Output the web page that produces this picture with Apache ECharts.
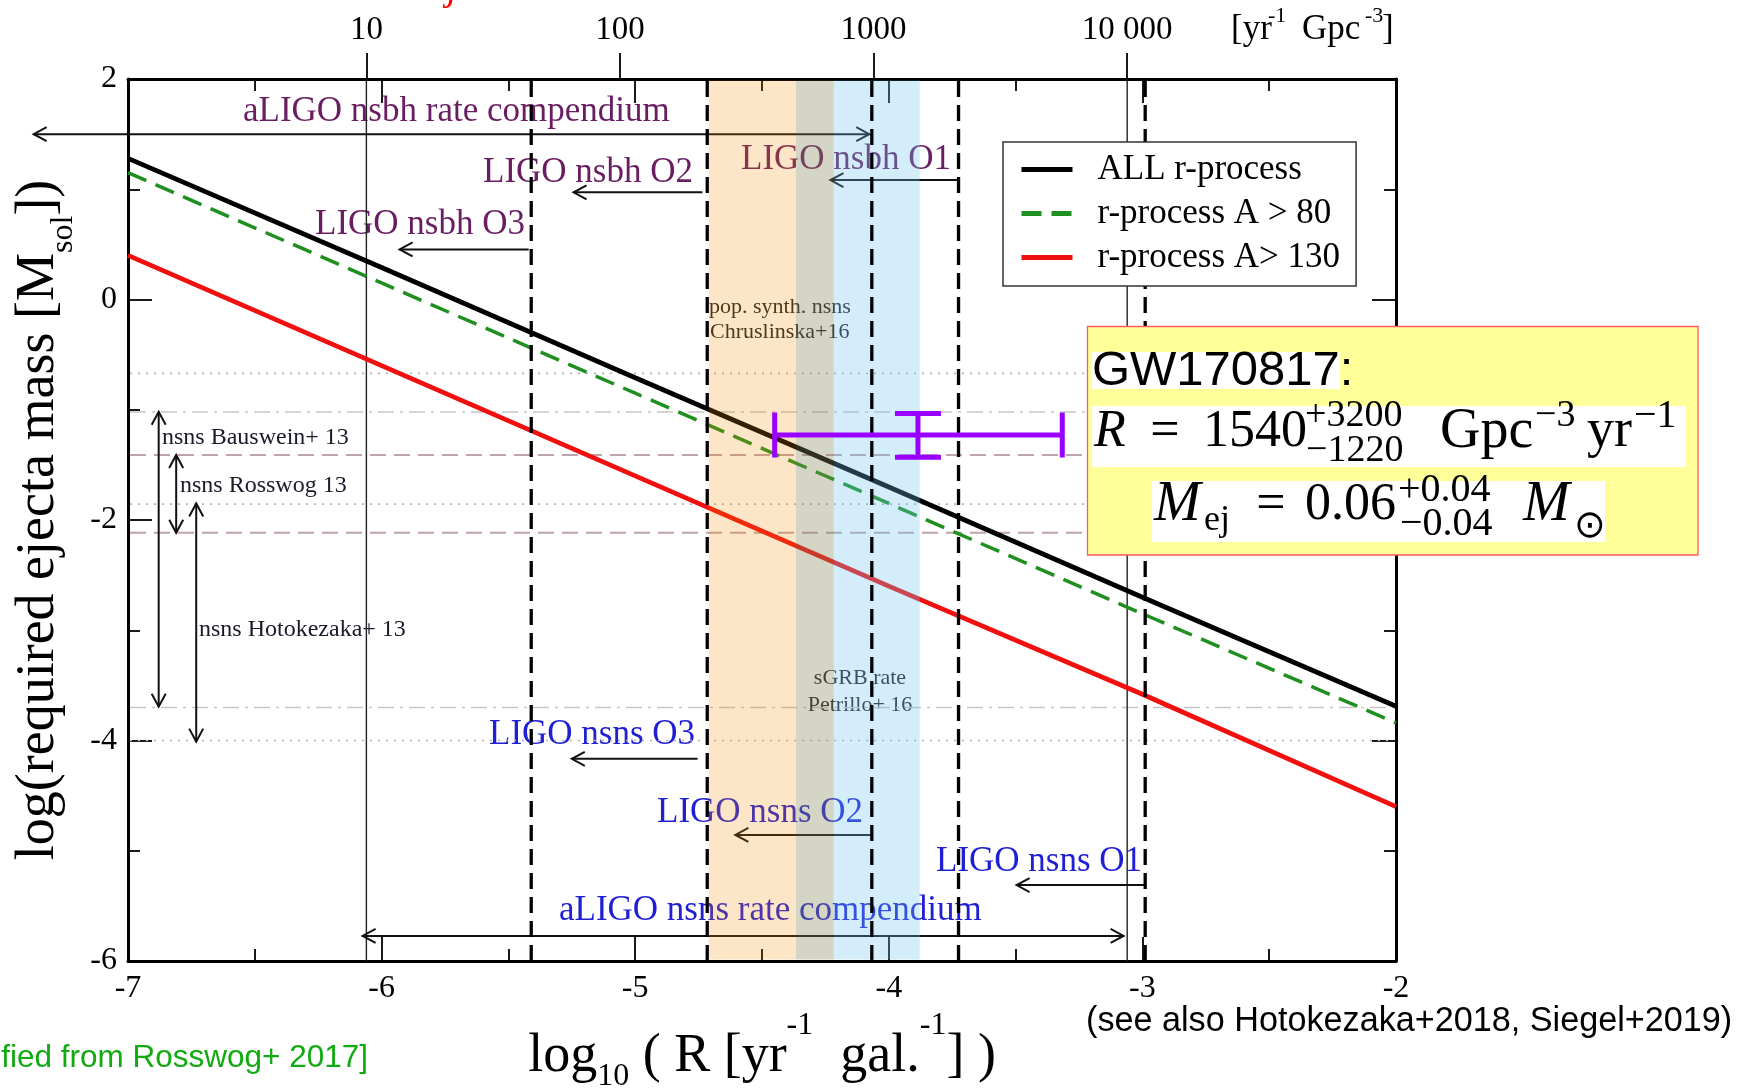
<!DOCTYPE html>
<html><head><meta charset="utf-8">
<script src="https://cdn.jsdelivr.net/npm/echarts@6/dist/echarts.min.js"></script>
<style>html,body{margin:0;padding:0;background:#fff}#c{width:1742px;height:1089px}</style>
</head><body><div id="c"></div>
<script>
// ---------------- data ----------------
const X_L = -7, X_R = -2, Y_BOT = -6, Y_TOP = 2;
const lineX   = [-7, -6, -5, -4, -3, -2];
const allR    = [1.28, 0.29, -0.71, -1.70, -2.70, -3.69];
const rA80    = [1.15, 0.15, -0.85, -1.85, -2.85, -3.84];
const rA130   = [0.40, -0.60, -1.60, -2.60, -3.58, -4.60];
const seriesNames = ['ALL r-process', 'r-process A > 80', 'r-process A> 130'];
const dashedRateX = [-5.41, -4.716, -4.067, -3.725, -2.989];
const thinRateX   = [-6.06, -3.06];
const bandPopSynth = [-4.71, -4.217];
const bandSGRB     = [-4.366, -3.878];
const refDotted  = [-0.67, -1.856, -4.0];
const refDashDot = [-1.02, -3.70];
const refDashed  = [-1.41, -2.116];
// horizontal arrows: [xStart, xEnd(head), y, doubleHeaded]
const hArrows = [
  [-7.372, -4.077, 1.50, 1],
  [-3.725, -4.230, 1.083, 0],
  [-4.735, -5.243, 0.972, 0],
  [-5.420, -5.929, 0.454, 0],
  [-4.754, -5.250, -4.166, 0],
  [-4.067, -4.605, -4.857, 0],
  [-2.989, -3.496, -5.311, 0],
  [-6.075, -3.074, -5.773, 1]
];
// vertical double arrows: [x, yTop, yBottom]
const vArrows = [[-6.879, -1.018, -3.693], [-6.81, -1.41, -2.116], [-6.731, -1.85, -4.01]];
// GW170817: [x, y, xLow, xHigh, yLow, yHigh]
const gw170817 = [-3.885, -1.229, -4.45, -3.316, -1.43, -1.033];
// top axis: log10(rate / Gpc^-3 yr^-1), offset to log10(rate / gal^-1 yr^-1)
const gpcOffset = 7.06;
const topTickExp = [1, 2, 3, 4];
const topTickLabels = ['10', '100', '1000', '10 000'];

// ---------------- helpers ----------------
const SERIF = '"Liberation Serif", "Times New Roman", serif';
const SANS = '"Liberation Sans", Arial, sans-serif';
const NSBH = '#6a1e62', NSNS = '#1f1fd4';
const zip = (xs, ys) => xs.map((x, i) => [x, ys[i]]);

function txt(text, x, y, size, color, opts) {
  opts = opts || {};
  const align = opts.align || 'left';
  const font = (opts.italic ? 'italic ' : '') + size + 'px ' + (opts.family || SERIF);
  return {type: 'text', x: x, y: y, z: opts.z == null ? 1 : opts.z, silent: true,
    style: {text: text, font: font, fill: color, align: align, textAlign: align,
      verticalAlign: opts.va || 'middle', textVerticalAlign: opts.va || 'middle'}};
}
function rect(x, y, w, h, fill, stroke, z) {
  return {type: 'rect', z: z, silent: true, shape: {x: x, y: y, width: w, height: h},
    style: {fill: fill, stroke: stroke || null, lineWidth: stroke ? 1.3 : 0}};
}
function head(tip, dx, dy, color, lw) {
  const L = 13, W = 7;
  const bx = tip[0] - dx * L, by = tip[1] - dy * L;
  return {type: 'polyline', shape: {points: [[bx - dy * W, by + dx * W], [tip[0], tip[1]], [bx + dy * W, by - dx * W]]},
    style: {stroke: color, lineWidth: lw, fill: null}};
}
const ARW = '#111';

const tickIn = {show: true, inside: true, length: 24, lineStyle: {color: '#000', width: 1.8}};
const minorIn = {show: true, splitNumber: 2, length: 12, lineStyle: {color: '#000', width: 1.8}};
const axLine = {show: true, onZero: false, lineStyle: {color: '#000', width: 3}};

const refStyles = [
  {stroke: '#b3b3b3', lineWidth: 1.6, lineDash: [2, 6]},
  {stroke: '#c6c6c6', lineWidth: 1.6, lineDash: [16, 6, 3, 6]},
  {stroke: '#bfa3aa', lineWidth: 2, lineDash: [16, 8]}
];
const refData = [].concat(refDotted.map(y => [X_L, y, 0]), refDashDot.map(y => [X_L, y, 1]), refDashed.map(y => [X_L, y, 2]));

const ov0 = Math.max(bandPopSynth[0], bandSGRB[0]), ov1 = Math.min(bandPopSynth[1], bandSGRB[1]);
const bandSegs = [[bandPopSynth[0], ov0, 0], [ov0, ov1, 1], [ov1, bandSGRB[1], 2]];
const bandColors = ['rgba(246,137,5,0.22)', 'rgba(135,135,89,0.35)', 'rgba(110,200,240,0.30)'];

const chart = echarts.init(document.getElementById('c'), null, {renderer: 'canvas', width: 1742, height: 1089});

const option = {
  animation: false,
  backgroundColor: '#fff',
  textStyle: {fontFamily: SERIF},
  grid: [
    {left: 128, right: 346, top: 79, bottom: 128, containLabel: false, outerBoundsMode: 'none'},
    {left: 128, right: 346, top: 79, bottom: 128, containLabel: false, outerBoundsMode: 'none'}
  ],
  legend: {
    orient: 'vertical', left: 1003, top: 142, z: 10,
    padding: [10, 16, 11, 16], itemGap: 9, itemWidth: 51, itemHeight: 10,
    backgroundColor: '#fff', borderColor: '#333', borderWidth: 1.5, borderRadius: 0,
    selectedMode: false,
    itemStyle: {opacity: 0},
    lineStyle: {width: 5},
    textStyle: {fontFamily: SERIF, fontSize: 35, color: '#000', padding: [0, 0, 0, 20]},
    data: seriesNames
  },
  xAxis: [
    {gridIndex: 0, type: 'value', position: 'bottom', min: X_L, max: X_R, interval: 1,
      axisLine: axLine, axisTick: tickIn, minorTick: minorIn, splitLine: {show: false},
      axisLabel: {fontFamily: SERIF, fontSize: 32, color: '#000', margin: 12},
      name: '{a|log}{s|10}{a| ( R [yr}{p|-1}{a|  gal.}{p|-1}{a|] )}',
      nameLocation: 'middle', nameGap: 43,
      nameTextStyle: {fontFamily: SERIF, fontSize: 54, color: '#000', rich: {
        a: {fontFamily: SERIF, fontSize: 54, color: '#000', verticalAlign: 'middle'},
        s: {fontFamily: SERIF, fontSize: 32, color: '#000', verticalAlign: 'middle', padding: [40, 0, 0, 0]},
        p: {fontFamily: SERIF, fontSize: 32, color: '#000', verticalAlign: 'top', padding: [0, 0, 62, 0]}
      }}},
    {gridIndex: 0, type: 'value', position: 'top', min: X_L, max: X_R, interval: 1,
      axisLine: axLine, axisTick: tickIn, minorTick: minorIn, splitLine: {show: false}, axisLabel: {show: false}},
    {gridIndex: 1, type: 'value', position: 'top', min: X_L + gpcOffset, max: X_R + gpcOffset,
      axisLine: {show: false, onZero: false},
      axisTick: {show: true, inside: false, length: 26, customValues: topTickExp, lineStyle: {color: '#000', width: 1.8}},
      minorTick: {show: false}, splitLine: {show: false},
      axisLabel: {customValues: topTickExp, fontFamily: SERIF, fontSize: 33, color: '#000', margin: 32,
        formatter: v => topTickLabels[topTickExp.indexOf(Math.round(v))]}}
  ],
  yAxis: [
    {gridIndex: 0, type: 'value', position: 'left', min: Y_BOT, max: Y_TOP, interval: 2,
      axisLine: axLine, axisTick: tickIn, minorTick: minorIn, splitLine: {show: false},
      axisLabel: {fontFamily: SERIF, fontSize: 32, color: '#000', margin: 11},
      name: '{a|log(required ejecta mass [M}{s|sol}{a|])}',
      nameLocation: 'middle', nameRotate: 90, nameGap: 40,
      nameTextStyle: {fontFamily: SERIF, fontSize: 54, color: '#000', rich: {
        a: {fontFamily: SERIF, fontSize: 54, color: '#000', verticalAlign: 'middle'},
        s: {fontFamily: SERIF, fontSize: 32, color: '#000', verticalAlign: 'middle', padding: [50, 0, 0, 0]}
      }}},
    {gridIndex: 0, type: 'value', position: 'right', min: Y_BOT, max: Y_TOP, interval: 2,
      axisLine: axLine, axisTick: tickIn, minorTick: minorIn, splitLine: {show: false}, axisLabel: {show: false}},
    {gridIndex: 1, type: 'value', show: false, min: 0, max: 1}
  ],
  series: [
    {name: seriesNames[0], type: 'line', data: zip(lineX, allR), symbol: 'none', silent: true, z: 2,
      lineStyle: {color: '#000', width: 4.8}, itemStyle: {color: '#000'}},
    {name: seriesNames[1], type: 'line', data: zip(lineX, rA80), symbol: 'none', silent: true, z: 2,
      lineStyle: {color: '#1f8f1f', width: 3.5, type: [20, 10]}, itemStyle: {color: '#1f8f1f'}},
    {name: seriesNames[2], type: 'line', data: zip(lineX, rA130), symbol: 'none', silent: true, z: 2,
      lineStyle: {color: '#f01010', width: 4.8}, itemStyle: {color: '#f01010'}},
    // horizontal reference lines
    {type: 'custom', silent: true, z: 1, clip: false, data: refData,
      renderItem: (p, api) => {
        const a = api.coord([X_L, api.value(1)]), b = api.coord([X_R, api.value(1)]);
        return {type: 'line', shape: {x1: a[0] + 2, y1: a[1], x2: b[0] - 2, y2: b[1]}, style: refStyles[api.value(2)]};
      }},
    // thin solid reference lines (10 and 10 000 Gpc^-3 yr^-1)
    {type: 'custom', silent: true, z: 2, clip: false, data: thinRateX.map(x => [x, 0]),
      renderItem: (p, api) => {
        const a = api.coord([api.value(0), Y_TOP]), b = api.coord([api.value(0), Y_BOT]);
        return {type: 'line', shape: {x1: a[0], y1: a[1], x2: b[0], y2: b[1]}, style: {stroke: '#222', lineWidth: 1.4}};
      }},
    // horizontal arrows
    {type: 'custom', silent: true, z: 2, clip: false, data: hArrows,
      renderItem: (p, api) => {
        const y = api.value(2);
        const p1 = api.coord([api.value(0), y]), p2 = api.coord([api.value(1), y]);
        const dir = p2[0] > p1[0] ? 1 : -1;
        const ch = [{type: 'line', shape: {x1: p1[0], y1: p1[1], x2: p2[0], y2: p2[1]}, style: {stroke: ARW, lineWidth: 2}},
          head(p2, dir, 0, ARW, 2)];
        if (api.value(3)) ch.push(head(p1, -dir, 0, ARW, 2));
        return {type: 'group', children: ch};
      }},
    // vertical double arrows
    {type: 'custom', silent: true, z: 2, clip: false, data: vArrows,
      renderItem: (p, api) => {
        const x = api.value(0);
        const p1 = api.coord([x, api.value(1)]), p2 = api.coord([x, api.value(2)]);
        return {type: 'group', children: [
          {type: 'line', shape: {x1: p1[0], y1: p1[1], x2: p2[0], y2: p2[1]}, style: {stroke: ARW, lineWidth: 2}},
          head(p2, 0, 1, ARW, 2), head(p1, 0, -1, ARW, 2)]};
      }},
    // rate bands (pop. synth. and sGRB)
    {type: 'custom', silent: true, z: 3, clip: false, data: bandSegs,
      renderItem: (p, api) => {
        const a = api.coord([api.value(0), Y_TOP]), b = api.coord([api.value(1), Y_BOT]);
        return {type: 'rect', shape: {x: a[0], y: a[1] + 1.5, width: b[0] - a[0], height: b[1] - a[1] - 3},
          style: {fill: bandColors[api.value(2)]}};
      }},
    // dashed LIGO limit lines
    {type: 'custom', silent: true, z: 4, clip: false, data: dashedRateX.map(x => [x, 0]),
      renderItem: (p, api) => {
        const a = api.coord([api.value(0), Y_TOP]), b = api.coord([api.value(0), Y_BOT]);
        return {type: 'line', shape: {x1: a[0], y1: a[1] + 2, x2: b[0], y2: b[1]}, style: {stroke: '#000', lineWidth: 3.3, lineDash: [16, 8]}};
      }},
    // GW170817 error bar
    {type: 'custom', silent: true, z: 5, clip: false, data: [gw170817],
      renderItem: (p, api) => {
        const c = api.coord([api.value(0), api.value(1)]);
        const l = api.coord([api.value(2), api.value(1)]), r = api.coord([api.value(3), api.value(1)]);
        const lo = api.coord([api.value(0), api.value(4)]), hi = api.coord([api.value(0), api.value(5)]);
        const st = {stroke: '#9900ff', lineWidth: 5};
        const H = 22.5, W = 23;
        const L = (x1, y1, x2, y2) => ({type: 'line', shape: {x1, y1, x2, y2}, style: st});
        return {type: 'group', children: [
          L(l[0], c[1], r[0], c[1]),
          L(l[0], c[1] - H, l[0], c[1] + H),
          L(r[0], c[1] - H, r[0], c[1] + H),
          L(c[0], lo[1], c[0], hi[1]),
          L(c[0] - W, lo[1], c[0] + W, lo[1]),
          L(c[0] - W, hi[1], c[0] + W, hi[1])
        ]};
      }}
  ],
  graphic: [
    // annotation labels
    txt('aLIGO nsbh rate compendium', 243, 112, 35, NSBH),
    txt('LIGO nsbh O1', 741, 160, 35, NSBH),
    txt('LIGO nsbh O2', 483, 173, 35, NSBH),
    txt('LIGO nsbh O3', 315, 225, 35, NSBH),
    txt('LIGO nsns O3', 489, 735, 35, NSNS),
    txt('LIGO nsns O2', 657, 813, 35, NSNS),
    txt('LIGO nsns O1', 936, 862, 35, NSNS),
    txt('aLIGO nsns rate compendium', 559, 911, 35, NSNS),
    txt('pop. synth. nsns', 709, 307, 22, '#222'),
    txt('Chruslinska+16', 710, 332, 22, '#222'),
    txt('sGRB rate', 860, 678, 22, '#222', {align: 'center'}),
    txt('Petrillo+ 16', 860, 705, 22, '#222', {align: 'center'}),
    txt('nsns Bauswein+ 13', 162, 438, 24, '#1a1a2a'),
    txt('nsns Rosswog 13', 180, 486, 24, '#1a1a2a'),
    txt('nsns Hotokezaka+ 13', 199, 630, 24, '#1a1a2a'),
    // top axis unit
    txt('[yr', 1231, 30, 35, '#000'),
    txt('-1', 1268, 16, 22, '#000'),
    txt('Gpc', 1302, 30, 35, '#000'),
    txt('-3', 1365, 16, 22, '#000'),
    txt(']', 1382, 30, 35, '#000'),
    // footnotes
    txt('(see also Hotokezaka+2018, Siegel+2019)', 1086, 1022, 34.2, '#000', {family: SANS}),
    txt('[modified from Rosswog+ 2017]', 368, 1058, 31.5, '#11aa11', {family: SANS, align: 'right'}),
    txt('j', 447, 8, 40, '#ff0000', {italic: true, va: 'bottom'}),
    // GW170817 box
    rect(1087.5, 326.5, 610.5, 228.5, '#ffff99', '#ff5a5a', 100),
    rect(1092, 352, 248, 37, '#ffffff', null, 101),
    rect(1092, 406, 594, 61, '#ffffff', null, 101),
    rect(1152, 481, 453, 61, '#ffffff', null, 101),
    txt('GW170817:', 1092, 371, 49, '#000', {family: SANS, z: 102}),
    txt('R', 1094, 432, 52, '#000', {italic: true, z: 102}),
    txt('=', 1165, 432, 52, '#000', {align: 'center', z: 102}),
    txt('1540', 1203, 432, 52, '#000', {z: 102}),
    txt('+3200', 1305, 416, 38, '#000', {z: 102}),
    txt('\u22121220', 1306, 451, 38, '#000', {z: 102}),
    txt('Gpc', 1440, 432, 56, '#000', {z: 102}),
    txt('\u22123', 1535, 416, 38, '#000', {z: 102}),
    txt('yr', 1587, 432, 54, '#000', {z: 102}),
    txt('\u22121', 1634, 416, 40, '#000', {z: 102}),
    txt('M', 1154, 505, 56, '#000', {italic: true, z: 102}),
    txt('ej', 1204, 521, 36, '#000', {z: 102}),
    txt('=', 1271, 505, 52, '#000', {align: 'center', z: 102}),
    txt('0.06', 1305, 505, 52, '#000', {z: 102}),
    txt('+0.04', 1398, 490, 40, '#000', {z: 102}),
    txt('\u22120.04', 1400, 524, 40, '#000', {z: 102}),
    txt('M', 1523, 505, 56, '#000', {italic: true, z: 102}),
    txt('\u2299', 1574, 527, 38, '#000', {family: '"DejaVu Sans", sans-serif', z: 102})
  ]
};
chart.setOption(option);
</script>
</body></html>
